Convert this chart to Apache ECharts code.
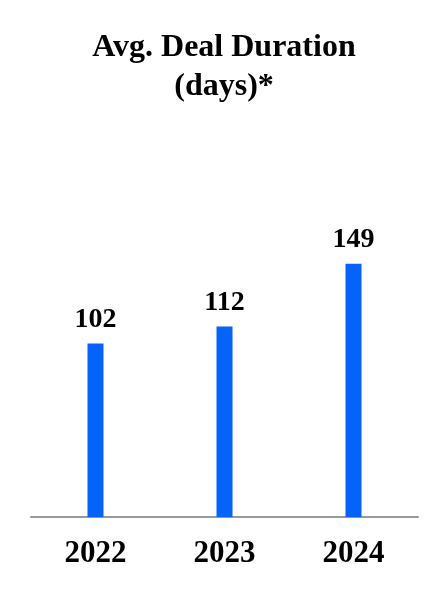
<!DOCTYPE html>
<html>
<head>
<meta charset="utf-8">
<script src="https://cdn.jsdelivr.net/npm/echarts@6/dist/echarts.min.js"></script>
<style>html,body{margin:0;padding:0;background:#fff}#c{width:448px;height:600px}</style>
</head>
<body>
<div id="c"></div>
<script>
var categories = ['2022', '2023', '2024'];
var durationDays = [102, 112, 149];
var titleText = 'Avg. Deal Duration\n(days)*';

var chart = echarts.init(document.getElementById('c'), null, {renderer: 'canvas'});
chart.setOption({
  animation: false,
  backgroundColor: '#ffffff',
  title: {
    text: titleText,
    left: 'center',
    top: 23,
    textStyle: {
      fontFamily: 'Liberation Serif',
      fontWeight: 'bold',
      fontSize: 32,
      lineHeight: 39,
      color: '#000'
    }
  },
  grid: {left: 31, right: 30, top: 262, bottom: 83},
  xAxis: {
    type: 'category',
    data: categories,
    axisLine: {lineStyle: {color: '#999999', width: 2}},
    axisTick: {show: false},
    axisLabel: {
      margin: 21,
      fontFamily: 'Liberation Serif',
      fontWeight: 'bold',
      fontSize: 31,
      color: '#000'
    }
  },
  yAxis: {
    type: 'value',
    min: 0,
    max: 150,
    show: false,
    splitLine: {show: false}
  },
  series: [{
    type: 'bar',
    data: durationDays,
    barWidth: 16,
    itemStyle: {color: '#0563fa'},
    label: {
      show: true,
      position: 'top',
      distance: 10,
      fontFamily: 'Liberation Serif',
      fontWeight: 'bold',
      fontSize: 28,
      color: '#000'
    }
  }]
});
</script>
</body>
</html>
